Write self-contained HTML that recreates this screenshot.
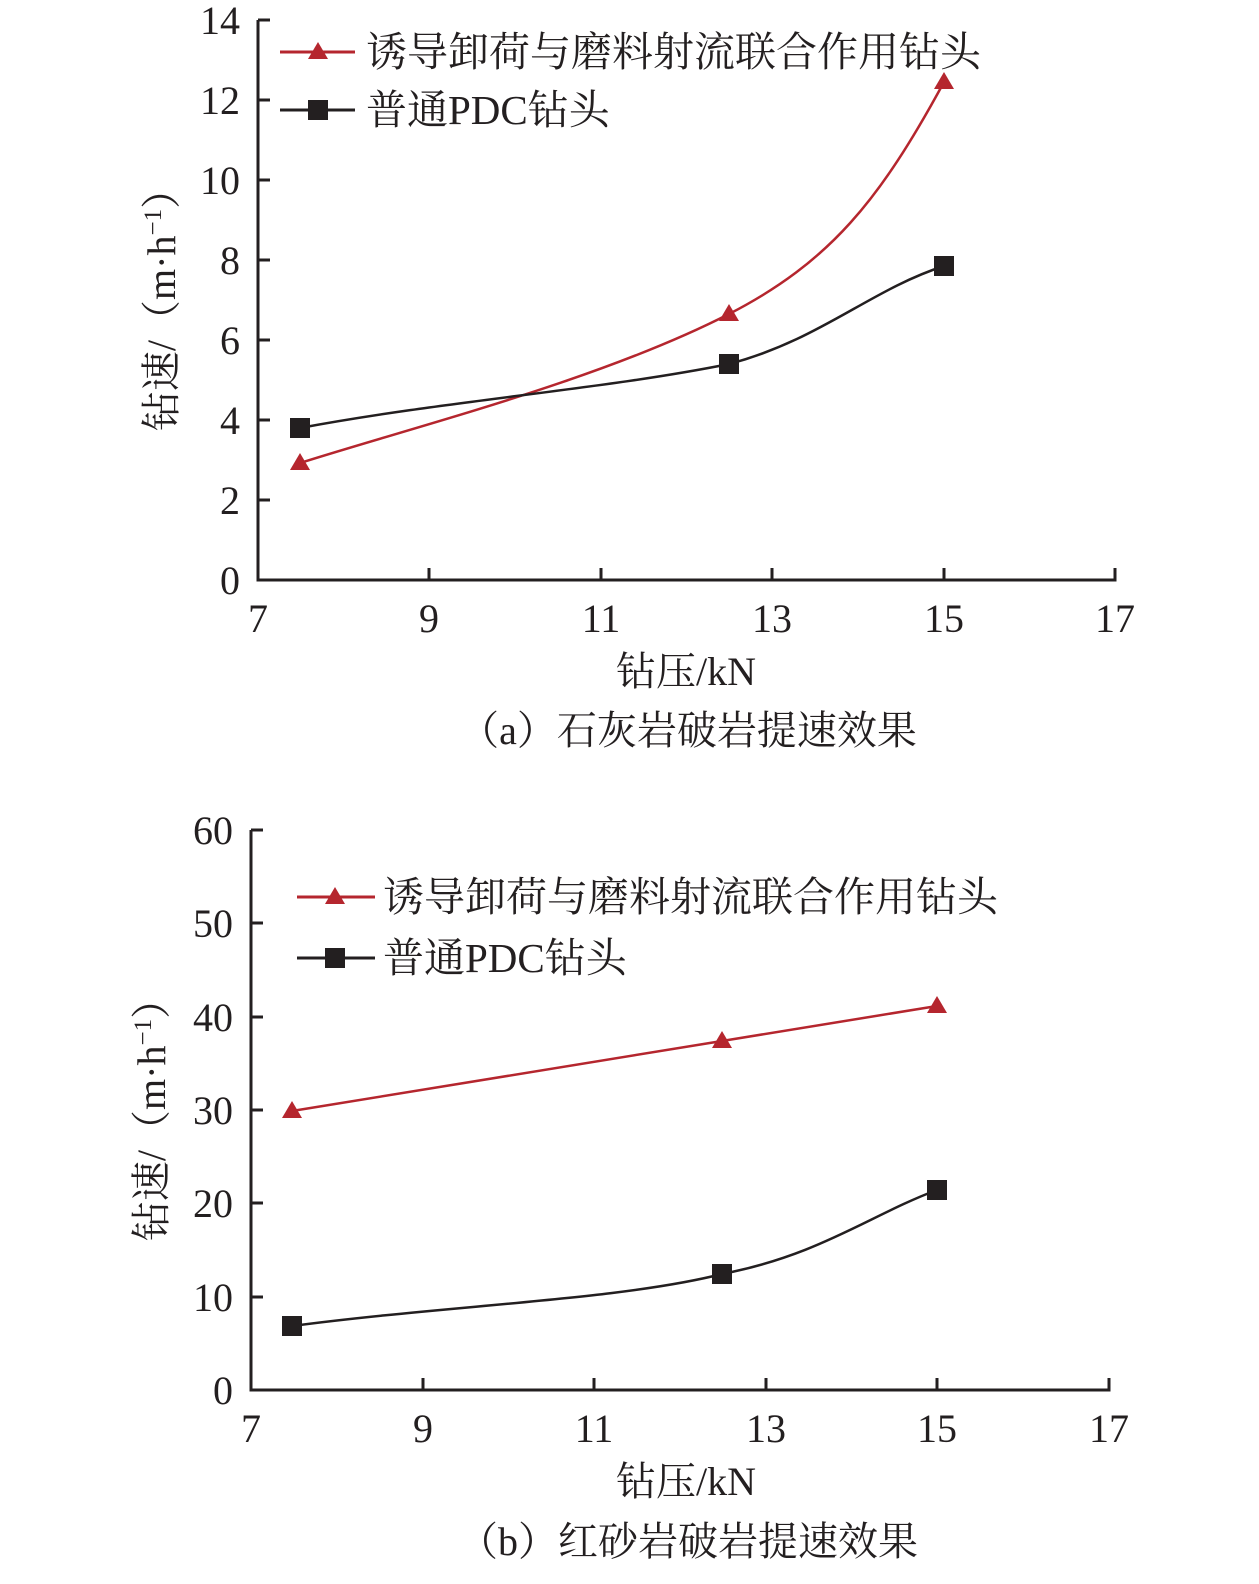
<!DOCTYPE html>
<html><head><meta charset="utf-8"><style>
body{margin:0;background:#fff}
text{font-family:"Liberation Serif","Noto Serif CJK SC",serif;fill:#231f20}
</style></head><body>
<svg width="1259" height="1579" xmlns="http://www.w3.org/2000/svg">
<g stroke="#231f20" stroke-width="3" fill="none">
<path d="M258 20 V580 H1115 V568"/>
<path d="M258 20h12M258 100h12M258 180h12M258 260h12M258 340h12M258 420h12M258 500h12"/>
<path d="M429 580v-12M601 580v-12M772 580v-12M944 580v-12"/>
<path d="M251 830 V1390 H1109 V1378"/>
<path d="M251 830h12M251 923h12M251 1017h12M251 1110h12M251 1203h12M251 1297h12"/>
<path d="M423 1390v-12M594 1390v-12M766 1390v-12M937 1390v-12"/>
</g>
<g font-size="40" text-anchor="end">
<text x="240" y="34">14</text><text x="240" y="114">12</text><text x="240" y="194">10</text>
<text x="240" y="274">8</text><text x="240" y="354">6</text><text x="240" y="434">4</text>
<text x="240" y="514">2</text><text x="240" y="594">0</text>
<text x="233" y="844">60</text><text x="233" y="937">50</text><text x="233" y="1031">40</text>
<text x="233" y="1124">30</text><text x="233" y="1217">20</text><text x="233" y="1311">10</text>
<text x="233" y="1404">0</text>
</g>
<g font-size="40" text-anchor="middle">
<text x="258" y="632">7</text><text x="429" y="632">9</text><text x="601" y="632">11</text>
<text x="772" y="632">13</text><text x="944" y="632">15</text><text x="1115" y="632">17</text>
<text x="251" y="1442">7</text><text x="423" y="1442">9</text><text x="594" y="1442">11</text>
<text x="766" y="1442">13</text><text x="937" y="1442">15</text><text x="1109" y="1442">17</text>
<text x="686" y="685">钻压/kN</text>
<text x="688" y="744">（a）石灰岩破岩提速效果</text>
<text x="686" y="1495">钻压/kN</text>
<text x="688" y="1555">（b）红砂岩破岩提速效果</text>
</g>
<text font-size="40" transform="translate(175 300) rotate(-90)" text-anchor="middle">钻速/（m·h<tspan font-size="25" dy="-14">−1</tspan><tspan dy="14">）</tspan></text>
<text font-size="40" transform="translate(165 1110) rotate(-90)" text-anchor="middle">钻速/（m·h<tspan font-size="25" dy="-14">−1</tspan><tspan dy="14">）</tspan></text>
<path d="M300 463 C420 425 600 380 729 314 C830 262 880 200 944 82" stroke="#b5262e" stroke-width="2.5" fill="none"/>
<path d="M300 428 C450 400 600 390 729 364 C820 340 870 290 944 266" stroke="#231f20" stroke-width="2.5" fill="none"/>
<g fill="#b5262e"><path d="M300 453l-10 17h20z"/><path d="M729 304l-10 17h20z"/><path d="M944 72l-10 17h20z"/></g>
<g fill="#231f20"><rect x="290" y="418" width="20" height="20"/><rect x="719" y="354" width="20" height="20"/><rect x="934" y="256" width="20" height="20"/></g>
<path d="M280 52h75" stroke="#b5262e" stroke-width="3"/><path d="M318 42l-10 17h20z" fill="#b5262e"/>
<path d="M280 110h75" stroke="#231f20" stroke-width="3"/><rect x="308" y="100" width="20" height="20" fill="#231f20"/>
<text x="366" y="66" font-size="41">诱导卸荷与磨料射流联合作用钻头</text>
<text x="366" y="124" font-size="41">普通PDC钻头</text>
<path d="M292 1111 L722 1041 L937 1006" stroke="#b5262e" stroke-width="2.5" fill="none"/>
<path d="M292 1326 C450 1305 620 1300 722 1274 C820 1255 870 1215 937 1190" stroke="#231f20" stroke-width="2.5" fill="none"/>
<g fill="#b5262e"><path d="M292 1101l-10 17h20z"/><path d="M722 1031l-10 17h20z"/><path d="M937 996l-10 17h20z"/></g>
<g fill="#231f20"><rect x="282" y="1316" width="20" height="20"/><rect x="712" y="1264" width="20" height="20"/><rect x="927" y="1180" width="20" height="20"/></g>
<path d="M297 897h78" stroke="#b5262e" stroke-width="3"/><path d="M335 887l-10 17h20z" fill="#b5262e"/>
<path d="M297 958h78" stroke="#231f20" stroke-width="3"/><rect x="325" y="948" width="20" height="20" fill="#231f20"/>
<text x="383" y="911" font-size="41">诱导卸荷与磨料射流联合作用钻头</text>
<text x="383" y="972" font-size="41">普通PDC钻头</text>
</svg>
</body></html>
